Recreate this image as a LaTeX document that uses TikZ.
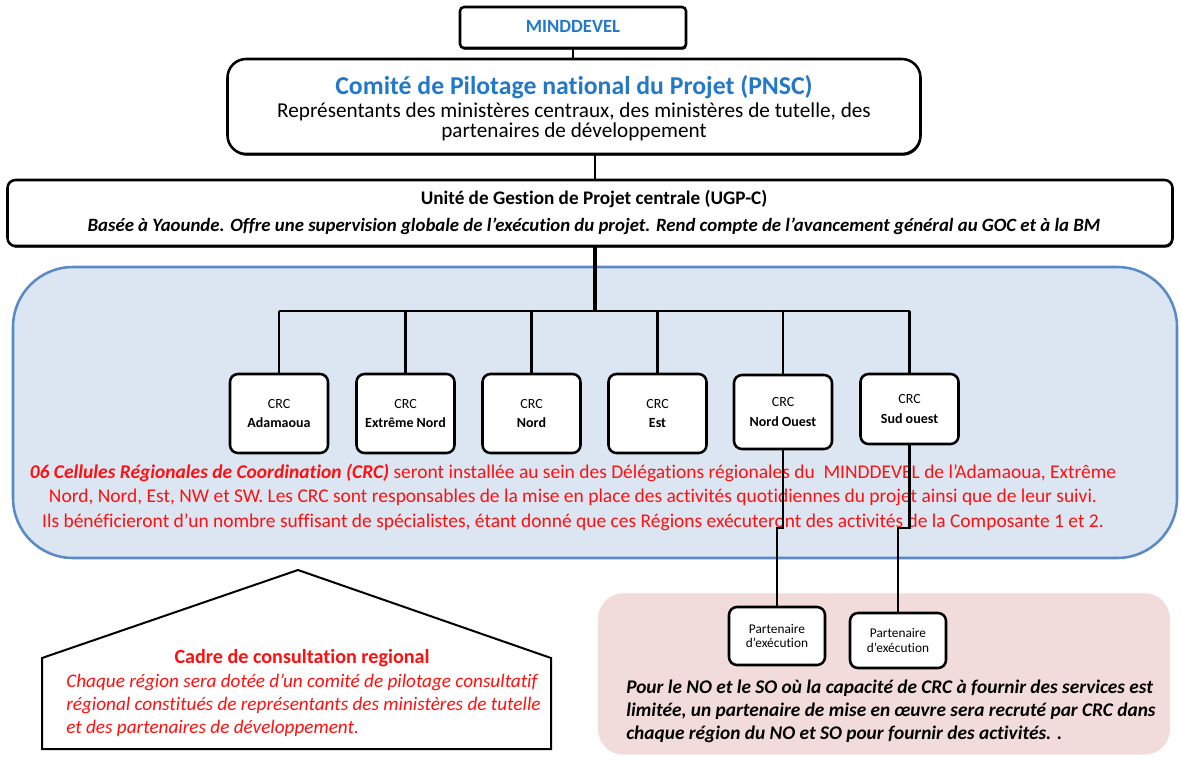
\documentclass[tikz,border=0pt]{standalone}
\usepackage{fontspec}
\setmainfont{Carlito}[Ligatures={NoCommon}]
\usetikzlibrary{shadows,calc}
\definecolor{tblue}{HTML}{2478C9}
\definecolor{rred}{HTML}{FF1010}
\definecolor{regfill}{HTML}{DCE6F2}
\definecolor{regline}{HTML}{5A8AC6}
\definecolor{pinkfill}{HTML}{F2DCDB}
\begin{document}
\begin{tikzpicture}[x=0.75pt,y=-0.75pt,
  box/.style={draw=black, line width=1.9pt, fill=white, rounded corners=5pt, inner sep=0pt},
  bigbox/.style={box, drop shadow={shadow xshift=0.6pt, shadow yshift=-1.3pt, opacity=1, fill=black}},
  crcbox/.style={box, minimum width=73.5pt, rounded corners=6pt, align=center, font=\fontsize{10.5}{14.5}\selectfont},
  ptbox/.style={box, minimum width=72pt, rounded corners=6pt, align=center, font=\fontsize{10}{11}\selectfont},
  conn/.style={line width=1.9pt},
  trunkline/.style={line width=3pt},
  txt/.style={inner sep=0pt},
]
\useasboundingbox (0,0) rectangle (1181,764);
% background regions
\node[draw=regline, line width=1.9pt, fill=regfill, rounded corners=45pt,
      minimum width=873pt, minimum height=218.25pt, inner sep=0pt] (blue) at (595,412.5) {};
\node[fill=pinkfill, rounded corners=19pt, minimum width=429pt, minimum height=121pt, inner sep=0pt] (pink) at (884,674) {};

% top boxes
\node[bigbox, minimum width=169.5pt, minimum height=30.75pt, rounded corners=3pt] (mind) at (573,27.5) {};
\node[txt, text=tblue, font=\fontsize{14}{16}\selectfont\bfseries] (mindt) at (573,26) {MINDDEVEL};
\node[bigbox, minimum width=519.75pt, minimum height=71.25pt, rounded corners=14pt] (pnsc) at (574,106.5) {};
\node[txt, text=tblue, font=\fontsize{19.3}{22}\selectfont\bfseries] (pnsct) at (574,87) {Comité de Pilotage national du Projet (PNSC)};
\node[txt, font=\fontsize{15.9}{14.6}\selectfont, align=center] (pnscd) at (574,122) {Représentants des ministères centraux, des ministères de tutelle, des\\partenaires de développement};
\node[bigbox, minimum width=873.75pt, minimum height=49.5pt, rounded corners=6pt] (ugp) at (590,213) {};
\node[txt, font=\fontsize{14.4}{16}\selectfont\bfseries] (ugpt) at (594,199) {Unité de Gestion de Projet centrale (UGP-C)};
\node[txt, font=\fontsize{14.1}{16}\selectfont\bfseries\itshape] (ugpd) at (594,226) {Basée à Yaounde. Offre une supervision globale de l'exécution du projet. Rend compte de l'avancement général au GOC et à la BM};

% CRC boxes
\node[crcbox, minimum height=59.25pt] (crc1) at (279,413.5) {CRC\\\textbf{Adamaoua}};
\node[crcbox, minimum height=59.25pt] (crc2) at (405.5,413.5) {CRC\\\textbf{Extrême Nord}};
\node[crcbox, minimum height=59.25pt] (crc3) at (531.5,413.5) {CRC\\\textbf{Nord}};
\node[crcbox, minimum height=59.25pt] (crc4) at (657.5,413.5) {CRC\\\textbf{Est}};
\node[crcbox, minimum height=55.5pt] (crc5) at (783,412) {CRC\\\textbf{Nord Ouest}};
\node[crcbox, minimum height=52.5pt] (crc6) at (909.5,409) {CRC\\\textbf{Sud ouest}};

% connectors
\coordinate (trunk) at (595,0);
\coordinate (bus) at (0,311);
\coordinate (jog) at (0,528);
\draw[conn] (mind.south) -- (mind.south |- pnsc.north);
\draw[conn] (pnsc.south -| trunk) -- (ugp.north -| trunk);
\draw[trunkline] (ugp.south -| trunk) -- (trunk |- bus);
\draw[conn] (crc1.north |- bus) -- (crc6.north |- bus);
\foreach \c in {crc1,crc2,crc3,crc4,crc5,crc6}{
  \draw[conn] (\c.north |- bus) -- (\c.north);
}

% red paragraph
\begin{scope}[every node/.style={txt, text=rred, font=\fontsize{14.6}{16}\selectfont}]
\node (r1) at (573,473) {\textbf{\textit{06 Cellules Régionales de Coordination (CRC)}} seront installée au sein des Délégations régionales du\ \ MINDDEVEL de l'Adamaoua, Extrême};
\node (r2) at (573,497) {Nord, Nord, Est, NW et SW. Les CRC sont responsables de la mise en place des activités quotidiennes du projet ainsi que de leur suivi.};
\node (r3) at (573,522) {Ils bénéficieront d'un nombre suffisant de spécialistes, étant donné que ces Régions exécuteront des activités de la Composante 1 et 2.};
\end{scope}

% partner boxes
\node[ptbox, minimum height=43.5pt] (p1) at (777,636) {Partenaire\\d'exécution};
\node[ptbox, minimum height=41.25pt] (p2) at (898,640.5) {Partenaire\\d'exécution};
\draw[conn] (crc5.south) -- (crc5.south |- jog) -- (p1.north |- jog) -- (p1.north);
\draw[conn] (crc6.south) -- (crc6.south |- jog) -- (p2.north |- jog) -- (p2.north);

% pink text
\begin{scope}[every node/.style={txt, anchor=west, font=\fontsize{14.5}{16}\selectfont\bfseries\itshape}]
\node (k1) at (626,688) {Pour le NO et le SO où la capacité de CRC à fournir des services est};
\node (k2) at (626,711) {limitée, un partenaire de mise en œuvre sera recruté par CRC dans};
\node (k3) at (626,734) {chaque région du NO et SO pour fournir des activités. .};
\end{scope}

% house
\draw[line width=1.5pt, fill=white, line join=miter]
  (42,658) coordinate (hl) -- (298,570) coordinate (ha) -- (551,658) coordinate (hr)
  -- (551,749) coordinate (hbr) -- (42,749) coordinate (hbl) -- cycle;
\draw[line width=2.2pt] (hbl) -- (hbr);
\node[txt, text=rred, font=\fontsize{15.1}{17}\selectfont\bfseries] (ht) at (302,658) {Cadre de consultation regional};
\begin{scope}[every node/.style={txt, anchor=west, text=rred, font=\fontsize{14.4}{16}\selectfont\itshape}]
\node (h1) at (66,682) {Chaque région sera dotée d'un comité de pilotage consultatif};
\node (h2) at (66,705) {régional constitués de représentants des ministères de tutelle};
\node (h3) at (66,728) {et des partenaires de développement.};
\end{scope}
\end{tikzpicture}
\end{document}
